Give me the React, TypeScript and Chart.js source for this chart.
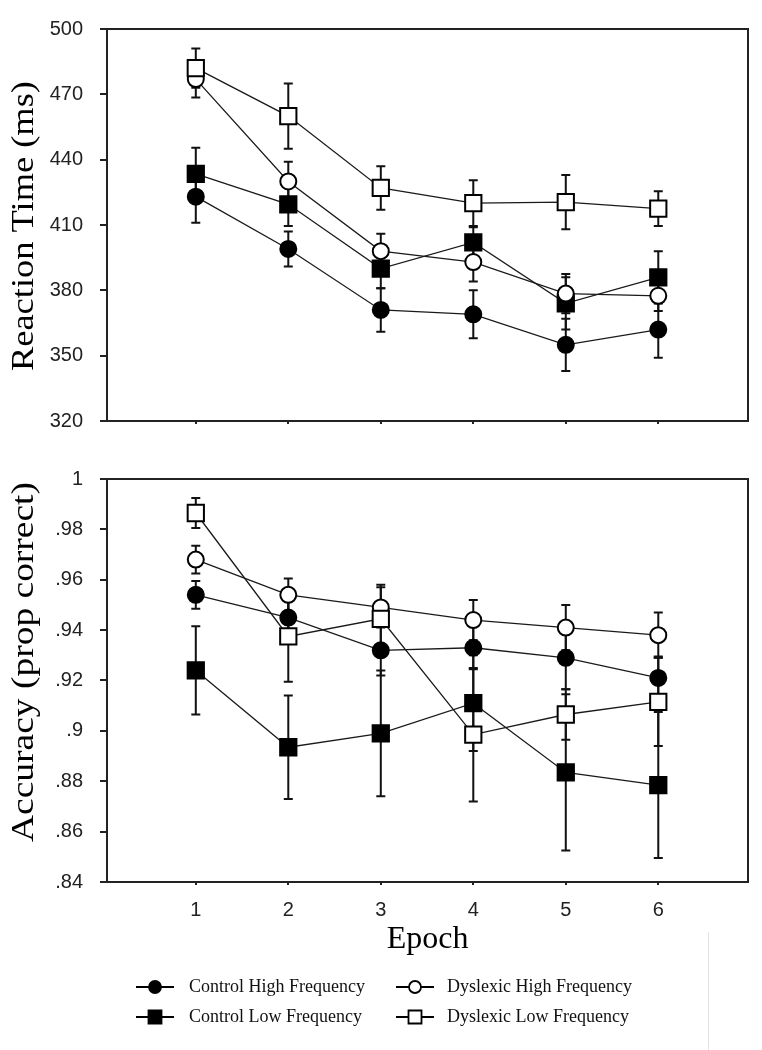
import React, { useEffect, useRef } from "react";
import { Chart, registerables } from "chart.js";

Chart.register(...registerables);

// ---------- data ----------
const EPOCHS = [1, 2, 3, 4, 5, 6];

const LABEL_CONTROL_HIGH = "Control High Frequency";
const LABEL_CONTROL_LOW = "Control Low Frequency";
const LABEL_DYSLEXIC_HIGH = "Dyslexic High Frequency";
const LABEL_DYSLEXIC_LOW = "Dyslexic Low Frequency";

const RT_TICKS = [320, 350, 380, 410, 440, 470, 500];
const ACC_TICKS = [0.84, 0.86, 0.88, 0.9, 0.92, 0.94, 0.96, 0.98, 1];

const RT_CONTROL_HIGH = [423, 399, 371, 369, 355, 362];
const RT_CONTROL_HIGH_SE = [12, 8, 10, 11, 12, 13];
const RT_CONTROL_LOW = [433.5, 419.5, 390, 402, 374, 386];
const RT_CONTROL_LOW_SE = [12, 10, 9, 7, 12, 12];
const RT_DYSLEXIC_HIGH = [477, 430, 398, 393, 378.5, 377.5];
const RT_DYSLEXIC_HIGH_SE = [8.5, 9, 8, 9, 9, 7];
const RT_DYSLEXIC_LOW = [482, 460, 427, 420, 420.5, 417.5];
const RT_DYSLEXIC_LOW_SE = [9, 15, 10, 10.5, 12.5, 8];

const ACC_CONTROL_HIGH = [0.954, 0.945, 0.932, 0.933, 0.929, 0.921];
const ACC_CONTROL_HIGH_SE = [0.0055, 0.008, 0.01, 0.0085, 0.0125, 0.0085];
const ACC_CONTROL_LOW = [0.924, 0.8935, 0.899, 0.911, 0.8835, 0.8785];
const ACC_CONTROL_LOW_SE = [0.0175, 0.0205, 0.025, 0.019, 0.031, 0.029];
const ACC_DYSLEXIC_HIGH = [0.968, 0.954, 0.949, 0.944, 0.941, 0.938];
const ACC_DYSLEXIC_HIGH_SE = [0.0055, 0.0065, 0.008, 0.008, 0.009, 0.009];
const ACC_DYSLEXIC_LOW = [0.9865, 0.9375, 0.9445, 0.8985, 0.9065, 0.9115];
const ACC_DYSLEXIC_LOW_SE = [0.006, 0.018, 0.0135, 0.0265, 0.01, 0.0175];

// ---------- styles ----------
const INK = "#1a1a1a";
const X_MIN = 0.04;
const X_MAX = 6.97;
const TICK_FONT = { family: "'Liberation Sans', Arial, sans-serif", size: 20 };
const SERIF = "'Liberation Serif', 'Times New Roman', serif";

const STYLE_CONTROL_HIGH = { shape: "circle", fill: "#000" };
const STYLE_CONTROL_LOW = { shape: "rect", fill: "#000" };
const STYLE_DYSLEXIC_HIGH = { shape: "circle", fill: "#fff" };
const STYLE_DYSLEXIC_LOW = { shape: "rect", fill: "#fff" };

function series(label: string, values: number[], errors: number[], style: any) {
  return {
    label,
    data: EPOCHS.map((e, i) => ({ x: e, y: values[i] })),
    errors,
    shape: style.shape,
    markerFill: style.fill,
    borderColor: INK,
    borderWidth: 1.3,
    pointStyle: style.shape,
    pointRadius: style.shape === "rect" ? 11.5 : 8,
    pointHoverRadius: style.shape === "rect" ? 11.5 : 8,
    pointBackgroundColor: style.fill,
    pointBorderColor: "#000",
    pointBorderWidth: 2,
    fill: false,
    tension: 0,
  };
}

// ---------- plugins ----------
const errorBarPlugin = {
  id: "errorBars",
  beforeDatasetsDraw(chart: any) {
    const { ctx } = chart;
    const ys = chart.scales.y;
    chart.data.datasets.forEach((ds: any, i: number) => {
      const meta = chart.getDatasetMeta(i);
      if (!ds.errors) return;
      meta.data.forEach((el: any, j: number) => {
        const v = ds.data[j].y;
        const e = ds.errors[j];
        const x = el.x;
        const yt = ys.getPixelForValue(v + e);
        const yb = ys.getPixelForValue(v - e);
        ctx.save();
        ctx.strokeStyle = "#111";
        ctx.lineWidth = 2;
        ctx.beginPath();
        ctx.moveTo(x, yt);
        ctx.lineTo(x, yb);
        ctx.moveTo(x - 4.5, yt);
        ctx.lineTo(x + 4.5, yt);
        ctx.moveTo(x - 4.5, yb);
        ctx.lineTo(x + 4.5, yb);
        ctx.stroke();
        ctx.restore();
      });
    });
  },
};

const framePlugin = {
  id: "frame",
  afterDraw(chart: any) {
    const { ctx, chartArea: a } = chart;
    ctx.save();
    ctx.strokeStyle = "#222";
    ctx.lineWidth = 2;
    ctx.strokeRect(a.left, a.top, a.right - a.left, a.bottom - a.top);
    ctx.restore();
  },
};

const sideTitlePlugin = {
  id: "sideTitle",
  afterDraw(chart: any, _args: any, opts: any) {
    if (!opts || !opts.text) return;
    const { ctx } = chart;
    ctx.save();
    ctx.translate(opts.cx, opts.cy);
    ctx.rotate(-Math.PI / 2);
    ctx.font = `${opts.size}px ${SERIF}`;
    const w = ctx.measureText(opts.text).width;
    ctx.scale(opts.length / w, 1);
    ctx.fillStyle = "#000";
    ctx.textAlign = "center";
    ctx.textBaseline = "middle";
    ctx.fillText(opts.text, 0, 0);
    ctx.restore();
  },
};

const legendPlugin = {
  id: "lineLegend",
  afterDraw(chart: any, _args: any, opts: any) {
    if (!opts || !opts.items) return;
    const { ctx } = chart;
    opts.items.forEach((it: any) => {
      const ds = chart.data.datasets.find((d: any) => d.label === it.label);
      if (!ds) return;
      ctx.save();
      ctx.strokeStyle = "#000";
      ctx.lineWidth = 2;
      ctx.beginPath();
      ctx.moveTo(it.x - 19, it.y);
      ctx.lineTo(it.x + 19, it.y);
      ctx.stroke();
      ctx.fillStyle = ds.markerFill;
      ctx.lineWidth = 1.8;
      ctx.beginPath();
      if (ds.shape === "rect") {
        ctx.rect(it.x - 6.5, it.y - 6.5, 13, 13);
      } else {
        ctx.arc(it.x, it.y, 6, 0, Math.PI * 2);
      }
      ctx.fill();
      ctx.stroke();
      ctx.fillStyle = "#111";
      ctx.font = `18px ${SERIF}`;
      ctx.textAlign = "left";
      ctx.textBaseline = "middle";
      ctx.fillText(it.label, it.textX, it.y);
      ctx.restore();
    });
  },
};

function makeConfig(p: any) {
  return {
    type: "line",
    data: { datasets: p.datasets },
    plugins: [errorBarPlugin, framePlugin, sideTitlePlugin, legendPlugin],
    options: {
      responsive: false,
      animation: false,
      events: [],
      layout: { padding: p.padding },
      plugins: {
        legend: { display: false },
        tooltip: { enabled: false },
        sideTitle: p.sideTitle,
        lineLegend: p.legend || {},
      },
      scales: {
        x: {
          type: "linear",
          min: X_MIN,
          max: X_MAX,
          afterBuildTicks: (s: any) => {
            s.ticks = EPOCHS.map((v) => ({ value: v }));
          },
          afterFit: (s: any) => {
            s.height = p.xHeight;
          },
          grid: { drawOnChartArea: false, drawTicks: true, tickLength: 3, color: "#222", lineWidth: 2 },
          border: { display: true, color: "#222", width: 2 },
          ticks: {
            display: p.showX,
            font: TICK_FONT,
            color: "#222",
            padding: 13,
            autoSkip: false,
            maxRotation: 0,
            callback: (v: any) => String(v),
          },
          title: p.showX
            ? { display: true, text: "Epoch", color: "#000", font: { family: SERIF, size: 32 }, padding: 0 }
            : { display: false },
        },
        y: {
          type: "linear",
          min: p.yMin,
          max: p.yMax,
          afterBuildTicks: (s: any) => {
            s.ticks = p.yTicks.map((v: number) => ({ value: v }));
          },
          afterFit: (s: any) => {
            s.width = 107;
          },
          grid: { drawOnChartArea: false, drawTicks: true, tickLength: 7, color: "#222", lineWidth: 2 },
          border: { display: true, color: "#222", width: 2 },
          ticks: {
            font: TICK_FONT,
            color: "#222",
            padding: 17,
            autoSkip: false,
            callback: p.fmt,
          },
        },
      },
    },
  };
}

function useChart(ref: any, config: any) {
  useEffect(() => {
    const chart = new Chart(ref.current, config as any);
    return () => chart.destroy();
  }, []);
}

export default function App() {
  const topRef = useRef<HTMLCanvasElement>(null);
  const botRef = useRef<HTMLCanvasElement>(null);

  useChart(
    topRef,
    makeConfig({
      datasets: [
        series(LABEL_DYSLEXIC_LOW, RT_DYSLEXIC_LOW, RT_DYSLEXIC_LOW_SE, STYLE_DYSLEXIC_LOW),
        series(LABEL_DYSLEXIC_HIGH, RT_DYSLEXIC_HIGH, RT_DYSLEXIC_HIGH_SE, STYLE_DYSLEXIC_HIGH),
        series(LABEL_CONTROL_LOW, RT_CONTROL_LOW, RT_CONTROL_LOW_SE, STYLE_CONTROL_LOW),
        series(LABEL_CONTROL_HIGH, RT_CONTROL_HIGH, RT_CONTROL_HIGH_SE, STYLE_CONTROL_HIGH),
      ],
      padding: { top: 29, right: 14, left: 0, bottom: 0 },
      xHeight: 25,
      showX: false,
      yMin: 320,
      yMax: 500,
      yTicks: RT_TICKS,
      fmt: (v: any) => String(v),
      sideTitle: { text: "Reaction Time (ms)", cx: 25, cy: 226, size: 32, length: 290 },
    })
  );

  useChart(
    botRef,
    makeConfig({
      datasets: [
        series(LABEL_DYSLEXIC_LOW, ACC_DYSLEXIC_LOW, ACC_DYSLEXIC_LOW_SE, STYLE_DYSLEXIC_LOW),
        series(LABEL_DYSLEXIC_HIGH, ACC_DYSLEXIC_HIGH, ACC_DYSLEXIC_HIGH_SE, STYLE_DYSLEXIC_HIGH),
        series(LABEL_CONTROL_LOW, ACC_CONTROL_LOW, ACC_CONTROL_LOW_SE, STYLE_CONTROL_LOW),
        series(LABEL_CONTROL_HIGH, ACC_CONTROL_HIGH, ACC_CONTROL_HIGH_SE, STYLE_CONTROL_HIGH),
      ],
      padding: { top: 25, right: 14, left: 0, bottom: 91 },
      xHeight: 77,
      showX: true,
      yMin: 0.84,
      yMax: 1,
      yTicks: ACC_TICKS,
      fmt: (v: any) => (Number(v) === 1 ? "1" : String(Number(v)).replace(/^0/, "")),
      sideTitle: { text: "Accuracy (prop correct)", cx: 25, cy: 212, size: 32, length: 360 },
      legend: {
        items: [
          { label: LABEL_CONTROL_HIGH, x: 155, y: 537, textX: 189 },
          { label: LABEL_DYSLEXIC_HIGH, x: 415, y: 537, textX: 447 },
          { label: LABEL_CONTROL_LOW, x: 155, y: 567, textX: 189 },
          { label: LABEL_DYSLEXIC_LOW, x: 415, y: 567, textX: 447 },
        ],
      },
    })
  );

  return (
    <div style={{ position: "absolute", left: 0, top: 0, width: 762, height: 1050, background: "#fff", overflow: "hidden" }}>
      <canvas ref={topRef} width={762} height={450} style={{ position: "absolute", left: 0, top: 0, display: "block" }} />
      <canvas ref={botRef} width={762} height={600} style={{ position: "absolute", left: 0, top: 450, display: "block" }} />
      <div style={{ position: "absolute", left: 708, top: 932, width: 1, height: 118, background: "#e4e4e4" }} />
    </div>
  );
}
